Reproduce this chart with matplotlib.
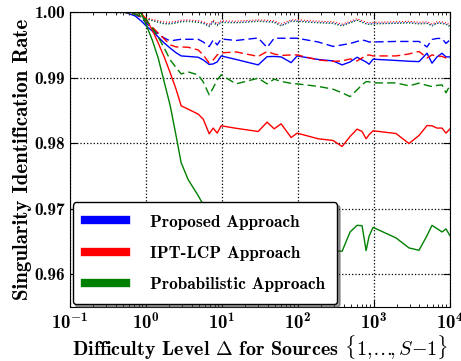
from matplotlib import pylab as plt
from matplotlib.lines import Line2D
from matplotlib.transforms import ScaledTranslation
import numpy as np

# difficulty levels (shared by all curves)
delta = [0.1, 0.185, 0.339, 0.535, 0.723, 0.867, 1.01, 1.21, 1.45, 1.74,
         2.09, 2.51, 2.91, 3.60, 4.88, 5.68, 6.81, 7.69, 8.67, 9.79,
         15.4, 30.1, 39.4, 48.8, 60.3, 81.7, 98.0, 185, 291, 383,
         488, 603, 701, 793, 867, 979, 1963, 2911, 3945, 5023,
         5848, 6808, 7925, 8933, 10000]

# Proposed approach
prop_solid = [1.0, 1.0, 1.0, 1.0, 0.99944, 0.99867, 0.99791, 0.99715, 0.99623, 0.99532,
              0.99453, 0.99380, 0.99334, 0.99326, 0.99314, 0.99273, 0.99204, 0.99212, 0.99242, 0.99334,
              0.99280, 0.99197, 0.99323, 0.99326, 0.99319, 0.99232, 0.99334, 0.99280, 0.99258, 0.99197,
              0.99242, 0.99314, 0.99273, 0.99242, 0.99207, 0.99284, 0.99265, 0.99253, 0.99247, 0.99375,
              0.99223, 0.99319, 0.99375, 0.99319, 0.99319]
prop_dash = [1.0, 1.0, 1.0, 1.0, 0.99974, 0.99913, 0.99837, 0.99745, 0.99669, 0.99608,
             0.99563, 0.99578, 0.99588, 0.99588, 0.99588, 0.99547, 0.99476, 0.99578, 0.99502, 0.99593,
             0.99570, 0.99608, 0.99463, 0.99604, 0.99604, 0.99604, 0.99604, 0.99547, 0.99479, 0.99502,
             0.99524, 0.99555, 0.99578, 0.99563, 0.99547, 0.99547, 0.99555, 0.99555, 0.99555, 0.99471,
             0.99585, 0.99601, 0.99601, 0.99524, 0.99578]
prop_dot = [1.0, 1.0, 1.0, 0.99989, 0.99959, 0.99928, 0.99898, 0.99875, 0.99852, 0.99829,
            0.99829, 0.99845, 0.99860, 0.99867, 0.99852, 0.99837, 0.99791, 0.99860, 0.99806, 0.99852,
            0.99845, 0.99867, 0.99860, 0.99852, 0.99799, 0.99867, 0.99867, 0.99845, 0.99837, 0.99799,
            0.99845, 0.99883, 0.99852, 0.99829, 0.99822, 0.99829, 0.99837, 0.99845, 0.99829, 0.99837,
            0.99799, 0.99837, 0.99837, 0.99822, 0.99791]

# IPT-LCP approach
ipt_solid = [1.0, 1.0, 1.0, 1.0, 1.0, 0.99982, 0.99898, 0.99730, 0.99532, 0.99319,
             0.99075, 0.98816, 0.98572, 0.98521, 0.98445, 0.98369, 0.98145, 0.98232, 0.98155, 0.98267,
             0.98229, 0.98180, 0.98323, 0.98221, 0.98297, 0.98088, 0.98155, 0.98069, 0.98043, 0.97951,
             0.98104, 0.98216, 0.98180, 0.98069, 0.98130, 0.98191, 0.98149, 0.97997, 0.98119, 0.98271,
             0.98267, 0.98232, 0.98232, 0.98155, 0.98216]
ipt_dash = [1.0, 1.0, 1.0, 1.0, 0.99974, 0.99928, 0.99867, 0.99776, 0.99684, 0.99593,
            0.99502, 0.99471, 0.99471, 0.99466, 0.99425, 0.99349, 0.99227, 0.99273, 0.99349, 0.99380,
            0.99395, 0.99326, 0.99402, 0.99364, 0.99341, 0.99349, 0.99349, 0.99273, 0.99250, 0.99258,
            0.99288, 0.99258, 0.99303, 0.99341, 0.99349, 0.99334, 0.99334, 0.99364, 0.99402, 0.99303,
            0.99349, 0.99334, 0.99326, 0.99303, 0.99288]
ipt_dot = [1.0, 1.0, 1.0, 0.99992, 0.99968, 0.99941, 0.99915, 0.99893, 0.99872, 0.99851,
           0.99850, 0.99862, 0.99878, 0.99884, 0.99870, 0.99856, 0.99814, 0.99878, 0.99826, 0.99870,
           0.99865, 0.99885, 0.99878, 0.99870, 0.99822, 0.99884, 0.99886, 0.99864, 0.99855, 0.99820,
           0.99862, 0.99902, 0.99870, 0.99848, 0.99840, 0.99846, 0.99856, 0.99862, 0.99848, 0.99856,
           0.99820, 0.99856, 0.99855, 0.99840, 0.99812]

# Probabilistic approach
prob_solid = [1.0, 1.0, 1.0, 1.0, 1.0, 0.99985, 0.99806, 0.99578, 0.99303, 0.98937,
              0.98572, 0.98099, 0.97703, 0.97444, 0.97200, 0.97062, 0.96910, 0.96802, 0.96711, 0.96650,
              0.96528, 0.96452, 0.96437, 0.96406, 0.96391, 0.96377, 0.96377, 0.96361, 0.96361, 0.96351,
              0.96646, 0.96747, 0.96742, 0.96361, 0.96579, 0.96716, 0.96555, 0.96402, 0.96366, 0.96590,
              0.96747, 0.96697, 0.96646, 0.96692, 0.96595]
prob_dash = [1.0, 1.0, 1.0, 1.0, 0.99974, 0.99944, 0.99883, 0.99761, 0.99623, 0.99456,
             0.99273, 0.99151, 0.99059, 0.99090, 0.99044, 0.98938, 0.98739, 0.98846, 0.98968, 0.99044,
             0.98907, 0.98994, 0.98907, 0.98979, 0.98945, 0.98915, 0.98907, 0.98869, 0.98826, 0.98770,
             0.98713, 0.98816, 0.98892, 0.98942, 0.98938, 0.98922, 0.98922, 0.98877, 0.98918, 0.98884,
             0.98866, 0.98884, 0.98892, 0.98770, 0.98877]
prob_dot = [1.0, 1.0, 1.0, 0.99990, 0.99962, 0.99932, 0.99900, 0.99872, 0.99846, 0.99822,
            0.99820, 0.99836, 0.99852, 0.99858, 0.99845, 0.99828, 0.99780, 0.99848, 0.99792, 0.99842,
            0.99838, 0.99860, 0.99852, 0.99845, 0.99790, 0.99858, 0.99860, 0.99838, 0.99828, 0.99790,
            0.99836, 0.99876, 0.99845, 0.99820, 0.99812, 0.99820, 0.99830, 0.99836, 0.99820, 0.99828,
            0.99790, 0.99830, 0.99828, 0.99812, 0.99782]

labels = ['Proposed Approach', 'IPT-LCP Approach', 'Probabilistic Approach']
colors = ['b', 'r', 'g']

plt.rcParams['font.family'] = 'cmb10'
plt.rcParams['mathtext.fontset'] = 'cm'
# bold set only used by the tick labels
plt.rcParams['mathtext.rm'] = 'cmb10'
plt.rcParams['mathtext.bf'] = 'cmb10'
plt.rcParams['mathtext.it'] = 'cmmi10'
plt.rcParams['axes.unicode_minus'] = False

fig = plt.figure(figsize=(4.61, 3.61), dpi=100)
ax = fig.add_axes([0.1518, 0.1496, 0.8237, 0.8163])

curves = [(prop_solid, prop_dash, prop_dot), (ipt_solid, ipt_dash, ipt_dot),
          (prob_solid, prob_dash, prob_dot)]
for (s, d, o), c in zip(curves, colors):
    ax.plot(delta, s, color=c, lw=1.0)
    ax.plot(delta, d, color=c, lw=1.0, dashes=(6, 3))
    ax.plot(delta, o, color=c, lw=0.8, linestyle=':')

ax.set_xscale('log')
ax.set_xlim(0.1, 1e4)
ax.set_ylim(0.955, 1.0)
ax.set_yticks([0.96, 0.97, 0.98, 0.99, 1.00])
ax.set_yticklabels(['%.2f' % v for v in [0.96, 0.97, 0.98, 0.99, 1.00]], fontsize=12.5)
xt = [0.1, 1, 10, 100, 1000, 10000]
ax.set_xticks(xt)
ax.set_xticklabels([r'$10^{%d}$' % int(np.log10(v)) for v in xt], fontsize=13.5)
for t in ax.get_xticklabels():
    t.set_math_fontfamily('custom')
# keep the last label inside the figure
last = ax.get_xticklabels()[-1]
last.set_transform(last.get_transform() + ScaledTranslation(-4 / 72, 0, fig.dpi_scale_trans))
ax.tick_params(direction='in', top=True, right=True, which='both')
ax.tick_params(which='major', length=5)
ax.tick_params(which='minor', length=2.5)
ax.tick_params(axis='x', pad=4)
ax.grid(True, which='major', color='k', linestyle=':', lw=0.9)

xl = ax.set_xlabel(r'Difficulty Level $\mathbf{\Delta}$ for Sources $\{1,\!\ldots\!,S{-}1\}$',
                   fontsize=14.5, labelpad=0)
xl.set_math_fontfamily('cm')
ax.set_ylabel('Singularity Identification Rate', fontsize=15, labelpad=2)

handles = [Line2D([], [], color=c, lw=6) for c in colors]
leg = ax.legend(handles, labels, loc='lower left', fontsize=12.4, fancybox=True,
                shadow={'ox': 2, 'oy': -2, 'color': '0.25'},
                framealpha=1, borderaxespad=0.15, labelspacing=0.95, handlelength=2.4,
                handletextpad=1.4, borderpad=0.7)
leg.get_frame().set_edgecolor('k')
leg.get_frame().set_linewidth(1.0)

plt.savefig('out.png', dpi=100)
